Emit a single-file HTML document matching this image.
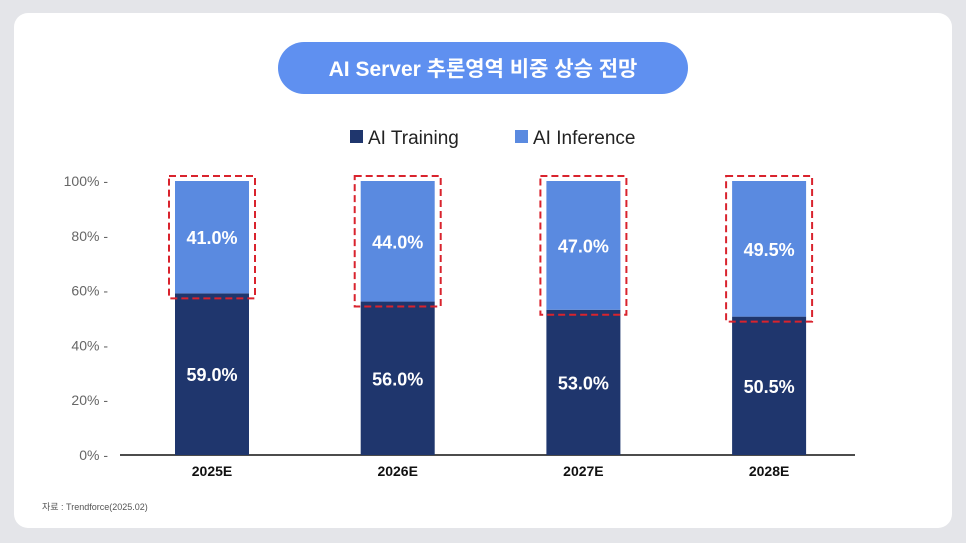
<!DOCTYPE html>
<html><head><meta charset="utf-8"><style>
body{margin:0;width:966px;height:543px;background:#e4e5e9;font-family:"Liberation Sans","Noto Sans CJK KR",sans-serif;overflow:hidden}
#card{position:absolute;left:14px;top:13px;width:938px;height:515px;background:#fff;border-radius:14px}
</style></head><body>
<div id="card"></div>
<svg id="chart" width="966" height="543" style="position:absolute;left:0;top:0">
<rect x="278" y="42" width="410" height="52" rx="26" fill="#5f90f0"/>
<text x="483" y="76" text-anchor="middle" font-size="21" font-weight="bold" fill="#fff">AI Server 추론영역 비중 상승 전망</text>
<g>
<rect x="350" y="130" width="13" height="13" fill="#1f366d"/>
<text x="368" y="144" font-size="19" fill="#222">AI Training</text>
<rect x="515" y="130" width="13" height="13" fill="#5a8ae0"/>
<text x="533" y="144" font-size="19" fill="#222">AI Inference</text>
</g>
<text x="42" y="510" font-size="9" fill="#555">자료 : Trendforce(2025.02)</text>
<g id="plot"></g>
</svg>
<script>
const categories=["2025E","2026E","2027E","2028E"];
const training=[59.0,56.0,53.0,50.5];
const inference=[41.0,44.0,47.0,49.5];
const yTicks=[0,20,40,60,80,100];
const NS="http://www.w3.org/2000/svg";
const g=document.getElementById('plot');
const y0=455,y1=181;
const y=v=>y0-(v/100)*(y0-y1);
const xc=i=>212+i*185.7;
const bw=74;
function mk(t,a,p){const e=document.createElementNS(NS,t);for(const k in a)e.setAttribute(k,a[k]);(p||g).appendChild(e);return e;}
yTicks.forEach(v=>{
const t=mk('text',{x:108,y:y(v)+5,'text-anchor':'end','font-size':14,fill:'#666'});t.textContent=v+'% -';


});
const ax=mk('line',{x1:120,x2:855,y1:y0,y2:y0,stroke:'#111','stroke-width':1.5});


categories.forEach((c,i)=>{
const x=xc(i)-bw/2;
const b1=mk('rect',{x:x,y:y(training[i]),width:bw,height:y0-y(training[i]),fill:'#1f366d'});


const top=training[i]+inference[i];
const b2=mk('rect',{x:x,y:y(top),width:bw,height:y(training[i])-y(top),fill:'#5a8ae0'});


const bx=mk('rect',{x:x-6,y:y(top)-5,width:bw+12,height:y(training[i])-y(top)+10,fill:'none',stroke:'#d9232d','stroke-width':2,'stroke-dasharray':'7,4'});


const l1=mk('text',{x:xc(i),y:(y(training[i])+y0)/2+7,'text-anchor':'middle','font-size':18,'font-weight':'bold',fill:'#fff'});
l1.textContent=training[i].toFixed(1)+'%';


const l2=mk('text',{x:xc(i),y:(y(top)+y(training[i]))/2+7,'text-anchor':'middle','font-size':18,'font-weight':'bold',fill:'#fff'});
l2.textContent=inference[i].toFixed(1)+'%';


const cl=mk('text',{x:xc(i),y:476,'text-anchor':'middle','font-size':14,'font-weight':'bold',fill:'#111'});
cl.textContent=c;


});
</script>
</body></html>
